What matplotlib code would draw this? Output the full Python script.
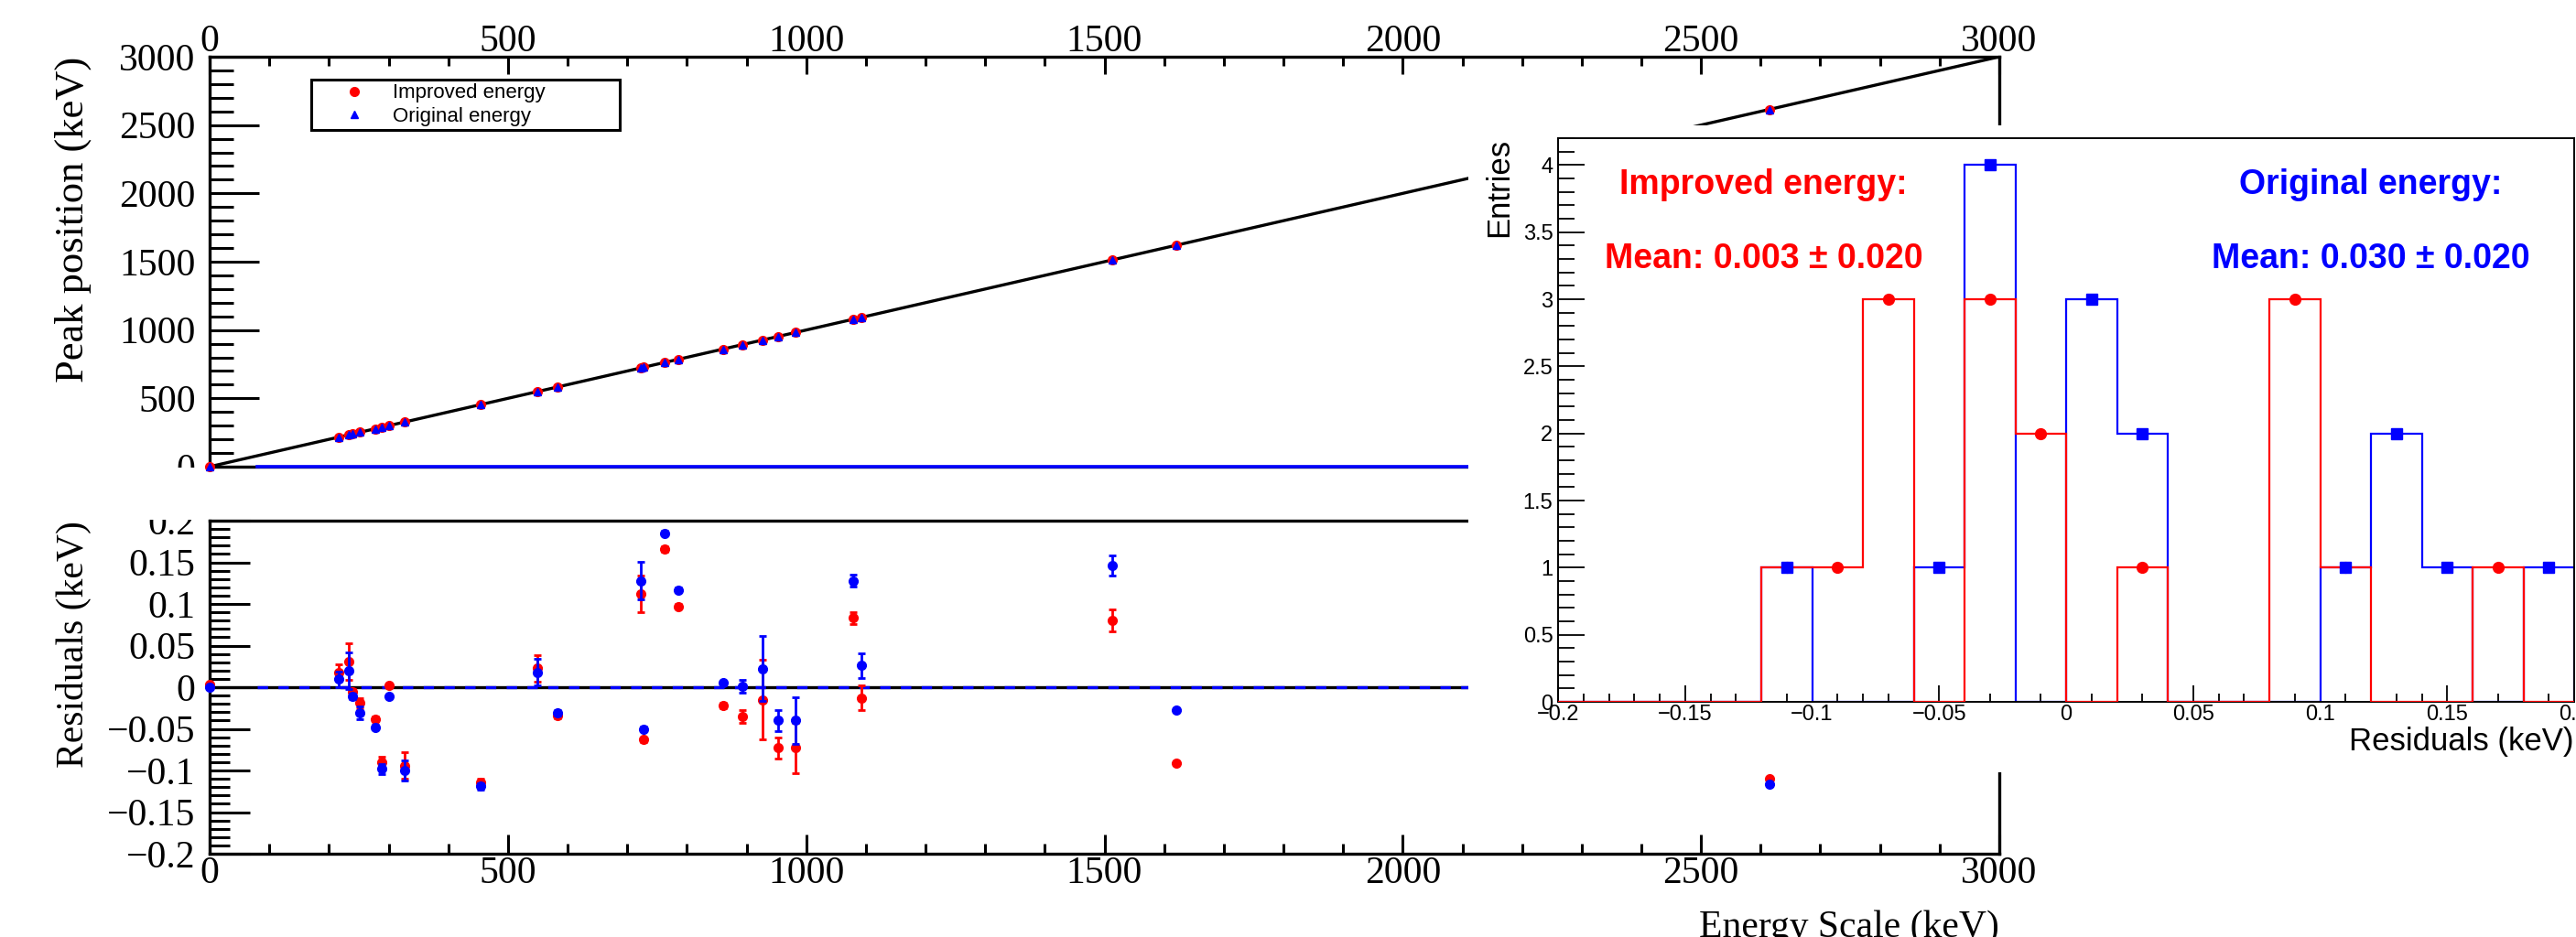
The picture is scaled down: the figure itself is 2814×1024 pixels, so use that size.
import matplotlib
matplotlib.use('Agg')
import matplotlib.pyplot as plt
import numpy as np
from matplotlib.patches import Rectangle
from matplotlib.ticker import MultipleLocator, FuncFormatter

# calibration peaks (keV)
energy = [0, 215.8, 233.0, 238.8, 251.5, 277.0, 288.0, 300.0, 327.5, 453.5,
          549.3, 583.0, 722.8, 726.9, 763.0, 785.0, 860.4, 893.4, 926.9, 952.3,
          982.4, 1078.2, 1093.0, 1512.8, 1620.0, 2614.6]
peak_pos = [0, 215.8, 233.0, 238.8, 251.5, 277.0, 288.0, 300.0, 327.5, 453.5,
            549.3, 583.0, 722.8, 726.9, 763.0, 785.0, 860.4, 893.4, 926.9, 952.3,
            982.4, 1078.2, 1093.0, 1512.8, 1620.0, 2614.6]

res_improved = [0.003, 0.018, 0.031, -0.005, -0.019, -0.038, -0.090, 0.002, -0.094, -0.114,
                0.023, -0.034, 0.112, -0.063, 0.166, 0.097, -0.022, -0.035, -0.015, -0.073,
                -0.073, 0.083, -0.013, 0.080, -0.091, -0.110]
err_improved = [0.002, 0.010, 0.022, 0.003, 0.006, 0.003, 0.007, 0.002, 0.016, 0.004,
                0.016, 0.003, 0.022, 0.003, 0.003, 0.003, 0.003, 0.008, 0.048, 0.013,
                0.030, 0.007, 0.015, 0.013, 0.002, 0.002]
res_original = [0.000, 0.0095, 0.020, -0.011, -0.031, -0.048, -0.098, -0.011, -0.100, -0.119,
                0.018, -0.031, 0.128, -0.050, 0.185, 0.117, 0.005, 0.001, 0.022, -0.040,
                -0.040, 0.128, 0.026, 0.146, -0.027, -0.117]
err_original = [0.002, 0.0095, 0.022, 0.003, 0.008, 0.003, 0.006, 0.002, 0.012, 0.004,
                0.016, 0.003, 0.023, 0.003, 0.003, 0.003, 0.003, 0.008, 0.039, 0.013,
                0.028, 0.007, 0.015, 0.012, 0.002, 0.002]

fit_x = [0, 3000]
fit_y = [0, 3000]
zero_x = [80, 3000]

# residual histogram, 0.02 keV bins from -0.2 to 0.2
hist_edges = np.linspace(-0.2, 0.2, 21)
counts_improved = [0, 0, 0, 0, 1, 1, 3, 0, 3, 2, 0, 1, 0, 0, 3, 1, 0, 0, 1, 0]
counts_original = [0, 0, 0, 0, 1, 0, 0, 1, 4, 0, 3, 2, 0, 0, 0, 1, 2, 1, 0, 1]

plt.rcParams['font.family'] = 'Liberation Serif'
plt.rcParams['axes.linewidth'] = 2.4

W, H = 2814, 1024


def box(l, t, r, b):
    return [l / W, 1 - b / H, (r - l) / W, (b - t) / H]


def gfmt(v, pos):
    return f'{round(v, 4):g}'.replace('-', '\u2212')


fig = plt.figure(figsize=(W / 100, H / 100), dpi=100)

# ---------------- upper pad: peak position vs energy
ax_top = fig.add_axes(box(229, 62, 2184, 510), zorder=1)
ax_top.plot(fit_x, fit_y, color='black', lw=2.4, zorder=3)
ax_top.plot(zero_x, [0, 0], color='blue', lw=2.6, zorder=3, clip_on=False)
ax_top.plot(energy, peak_pos, 'o', color='red', ms=7, clip_on=False,
            label='Improved energy', zorder=4)
ax_top.plot(energy, peak_pos, '^', color='blue', ms=6, clip_on=False,
            label='Original energy', zorder=5)
ax_top.set_xlim(0, 3000)
ax_top.set_ylim(0, 3000)
ax_top.xaxis.tick_top()
ax_top.xaxis.set_major_locator(MultipleLocator(500))
ax_top.xaxis.set_minor_locator(MultipleLocator(100))
ax_top.yaxis.set_major_locator(MultipleLocator(500))
ax_top.yaxis.set_minor_locator(MultipleLocator(100))
ax_top.xaxis.set_major_formatter(FuncFormatter(gfmt))
ax_top.yaxis.set_major_formatter(FuncFormatter(gfmt))
ax_top.tick_params(axis='x', which='both', direction='in', top=True, bottom=False,
                   labeltop=True, labelbottom=False, width=2.2, labelsize=30, pad=-2)
ax_top.tick_params(axis='x', which='major', length=14)
ax_top.tick_params(axis='x', which='minor', length=7)
ax_top.tick_params(axis='y', which='both', direction='in', left=True, right=False,
                   width=2.2, labelsize=30, pad=11)
ax_top.tick_params(axis='y', which='major', length=39)
ax_top.tick_params(axis='y', which='minor', length=19)
ax_top.set_ylabel('Peak position (keV)', loc='top', fontsize=32)
ax_top.yaxis.set_label_coords(-0.066, 1.0)
leg = ax_top.legend(loc='upper left', bbox_to_anchor=(340 / W, 1 - 145 / H, 337 / W, 58 / H),
                    bbox_transform=fig.transFigure, mode='expand',
                    prop={'family': 'Liberation Sans', 'size': 16},
                    fancybox=False, edgecolor='black', framealpha=1, borderpad=0.2,
                    labelspacing=0.2, handlelength=3.8, handletextpad=0.0,
                    borderaxespad=0, markerscale=1.0)
leg.get_frame().set_linewidth(2.2)

# ---------------- lower pad: residuals
ax_bot = fig.add_axes(box(229, 569, 2184, 933), zorder=1)
ax_bot.plot(fit_x, [0, 0], color='black', lw=2.4, zorder=2)
ax_bot.plot(zero_x, [0, 0], color='blue', lw=2.4, linestyle=(0, (3.4, 3.4)), zorder=2)
for res, err, col, z in [(res_improved, err_improved, 'red', 3),
                         (res_original, err_original, 'blue', 4)]:
    cont = ax_bot.errorbar(energy, res, yerr=err, fmt='o', color=col, ms=7,
                           elinewidth=2.0, capsize=3, capthick=2.0, zorder=z)
    for art in cont.get_children():
        art.set_clip_on(False)
ax_bot.set_xlim(0, 3000)
ax_bot.set_ylim(-0.2, 0.2)
ax_bot.xaxis.set_major_locator(MultipleLocator(500))
ax_bot.xaxis.set_minor_locator(MultipleLocator(100))
ax_bot.yaxis.set_major_locator(MultipleLocator(0.05))
ax_bot.yaxis.set_minor_locator(MultipleLocator(0.01))
ax_bot.xaxis.set_major_formatter(FuncFormatter(gfmt))
ax_bot.yaxis.set_major_formatter(FuncFormatter(gfmt))
ax_bot.tick_params(axis='x', which='both', direction='in', top=False, bottom=True,
                   width=2.2, labelsize=30, pad=2)
ax_bot.tick_params(axis='x', which='major', length=15)
ax_bot.tick_params(axis='x', which='minor', length=8)
ax_bot.tick_params(axis='y', which='both', direction='in', left=True, right=False,
                   width=2.2, labelsize=30, pad=11)
ax_bot.tick_params(axis='y', which='major', length=32)
ax_bot.tick_params(axis='y', which='minor', length=16)
ax_bot.set_ylabel('Residuals (keV)', loc='top', fontsize=30)
ax_bot.yaxis.set_label_coords(-0.066, 1.0)
ax_bot.set_xlabel('Energy Scale (keV)', loc='right', fontsize=30)
ax_bot.xaxis.set_label_coords(1.0, -0.168)

# pad edges clip labels between the two pads
fig.add_artist(Rectangle((0, 1 - 568 / H), 224 / W, 57 / H, transform=fig.transFigure,
                         facecolor='white', edgecolor='none', zorder=2))
# inset pad background
fig.add_artist(Rectangle((1604 / W, 1 - 844 / H), 1210 / W, 707 / H, transform=fig.transFigure,
                         facecolor='white', edgecolor='none', zorder=2))

# ---------------- inset: residual distribution
ax_in = fig.add_axes(box(1702, 151, 2812, 767), zorder=3)
for sp in ax_in.spines.values():
    sp.set_linewidth(1.4)
centers = (hist_edges[:-1] + hist_edges[1:]) / 2
ax_in.stairs(counts_original, hist_edges, color='blue', lw=1.6, zorder=2)
ax_in.stairs(counts_improved, hist_edges, color='red', lw=1.6, zorder=3)
ci = np.array(counts_improved)
co = np.array(counts_original)
ax_in.plot(centers[ci > 0], ci[ci > 0], 'o', color='red', ms=8.5, zorder=4)
ax_in.plot(centers[co > 0], co[co > 0], 's', color='blue', ms=8, zorder=5)
ax_in.set_xlim(-0.2, 0.2)
ax_in.set_ylim(0, 4.2)
ax_in.xaxis.set_major_locator(MultipleLocator(0.05))
ax_in.xaxis.set_minor_locator(MultipleLocator(0.01))
ax_in.yaxis.set_major_locator(MultipleLocator(0.5))
ax_in.yaxis.set_minor_locator(MultipleLocator(0.1))
ax_in.xaxis.set_major_formatter(FuncFormatter(gfmt))
ax_in.yaxis.set_major_formatter(FuncFormatter(gfmt))
ax_in.tick_params(axis='both', which='both', direction='in', width=1.3, labelsize=17)
ax_in.tick_params(axis='x', which='major', length=13, pad=2)
ax_in.tick_params(axis='x', which='minor', length=6.5)
ax_in.tick_params(axis='y', which='major', length=21, pad=4)
ax_in.tick_params(axis='y', which='minor', length=13)
for lab in ax_in.get_xticklabels() + ax_in.get_yticklabels():
    lab.set_family('Liberation Sans')
ax_in.set_ylabel('Entries', loc='top', fontsize=25, family='Liberation Sans')
ax_in.yaxis.set_label_coords(-0.0432, 1.0)
ax_in.set_xlabel('Residuals (keV)', loc='right', fontsize=25, family='Liberation Sans')
ax_in.xaxis.set_label_coords(1.0, -0.044)

bold = dict(fontsize=27, fontweight='bold', family='Liberation Sans', ha='center', va='center')
ax_in.text(-0.119, 3.85, 'Improved energy:', color='red', **bold)
ax_in.text(-0.119, 3.30, 'Mean: 0.003 \u00b1 0.020', color='red', **bold)
ax_in.text(0.120, 3.85, 'Original energy:', color='blue', **bold)
ax_in.text(0.120, 3.30, 'Mean: 0.030 \u00b1 0.020', color='blue', **bold)

fig.savefig('out.png', dpi=100)
